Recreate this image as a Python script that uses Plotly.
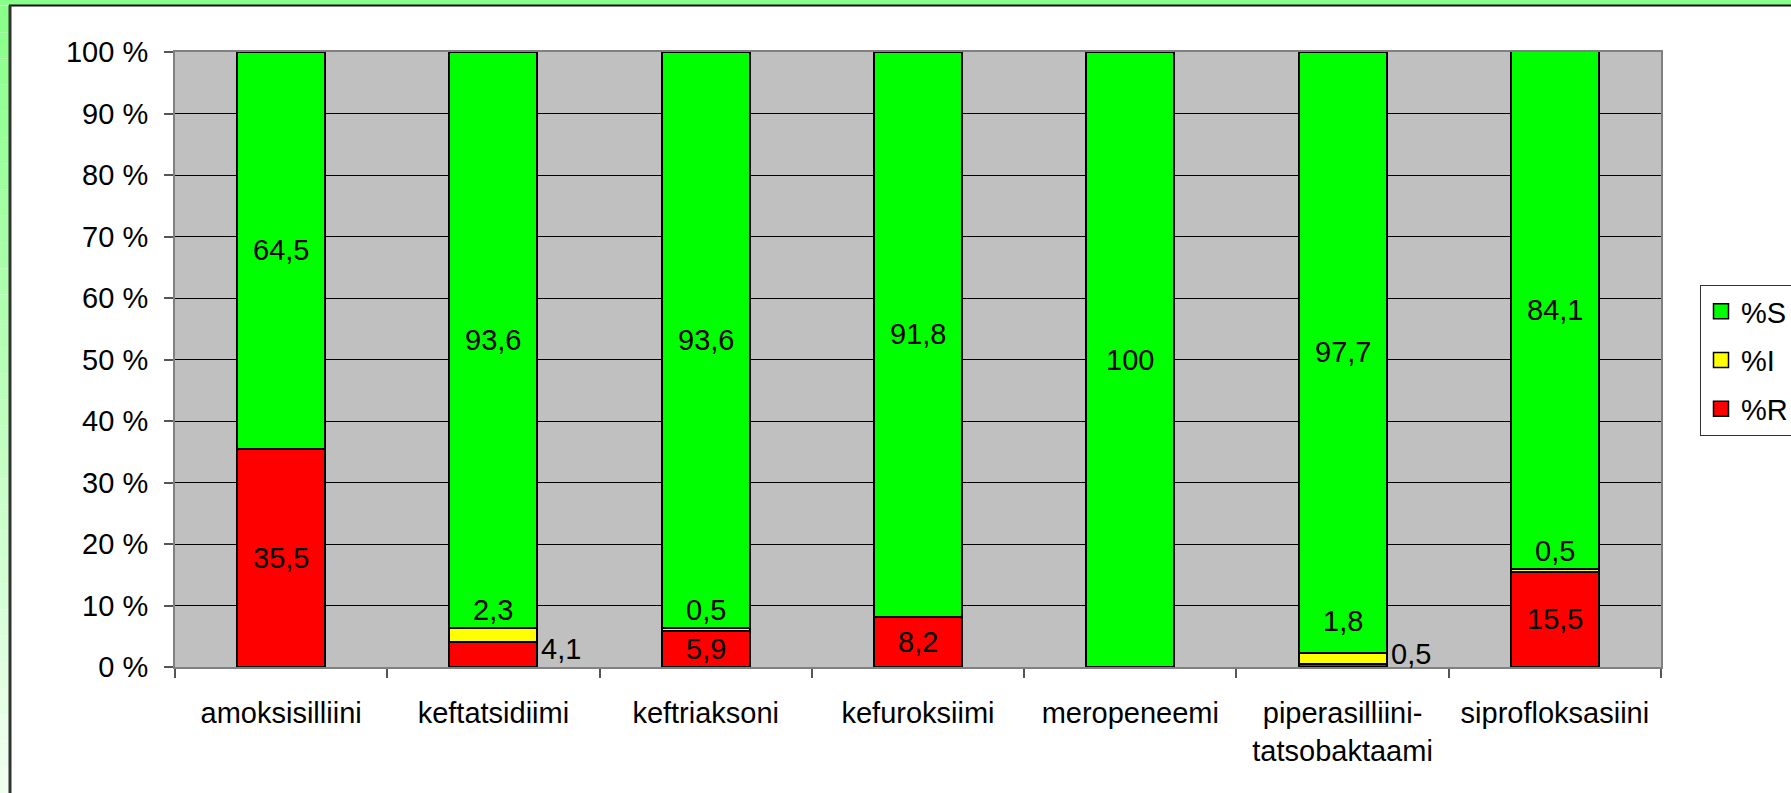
import plotly.graph_objects as go

# ---- data ----
categories = ["amoksisilliini", "keftatsidiimi", "keftriaksoni", "kefuroksiimi",
              "meropeneemi", "piperasilliini-<br>tatsobaktaami", "siprofloksasiini"]
pct_R = [35.5, 4.1, 5.9, 8.2, 0.0, 0.5, 15.5]
pct_I = [0.0, 2.3, 0.5, 0.0, 0.0, 1.8, 0.5]
pct_S = [64.5, 93.6, 93.6, 91.8, 100.0, 97.7, 84.1]
y_ticks = [0, 10, 20, 30, 40, 50, 60, 70, 80, 90, 100]
y_tick_text = [f"{v} %" for v in y_ticks]

# ---- label placement (style) ----
place_R = ["center", "right", "center", "center", None, "right", "center"]
place_I = [None, "above", "above", None, None, "above", "above"]
place_S = ["center"] * 7
shift_R = [0, 0, 0, 0, 0, -5, 0]
shift_I = [0, 0, 0, 0, 0, 14, 0]
shift_S = [0] * 7

W, H = 1791, 793
ML, MR, MT, MB = 175, 130, 52, 126
FONT = "Liberation Sans, Arial, sans-serif"
FS = 29
BAR_W = 0.415

def px_x(px):
    return (px - ML) / (W - ML - MR)

def px_y(py):
    return (H - MB - py) / (H - MT - MB)

fig = go.Figure()
series = [("%R", pct_R, "#FF0000", place_R, shift_R),
          ("%I", pct_I, "#FFFF00", place_I, shift_I),
          ("%S", pct_S, "#00FF00", place_S, shift_S)]

for name, vals, col, _, _ in series:
    fig.add_trace(go.Bar(x=categories, y=vals, name=name, width=BAR_W,
                         marker=dict(color=col, line=dict(color="black", width=2)),
                         showlegend=False, hoverinfo="skip"))

# legend proxies (bigger square symbols)
for gi, (name, vals, col, _, _) in enumerate(reversed(series)):
    fig.add_trace(go.Scatter(x=[None], y=[None], mode="markers", name=name,
                             legendgroup=name, legendrank=gi + 1,
                             marker=dict(symbol="square", size=15, color=col,
                                         line=dict(color="black", width=1.5))))

def fmt(v):
    s = f"{v:.1f}".replace(".", ",")
    return s[:-2] if s.endswith(",0") else s

annotations = []
base = [0.0] * len(categories)
for name, vals, col, places, shifts in series:
    for i, v in enumerate(vals):
        p = places[i]
        if p is not None and v > 0:
            if p == "center":
                annotations.append(dict(x=i, y=base[i] + v / 2, xref="x", yref="y",
                                        text=fmt(v), showarrow=False, yshift=shifts[i],
                                        xanchor="center", yanchor="middle"))
            elif p == "above":
                annotations.append(dict(x=i, y=base[i] + v, xref="x", yref="y",
                                        text=fmt(v), showarrow=False, yshift=shifts[i],
                                        xanchor="center", yanchor="bottom"))
            elif p == "right":
                annotations.append(dict(x=i + BAR_W / 2, y=base[i], xref="x", yref="y",
                                        text=fmt(v), showarrow=False, xshift=2,
                                        yshift=shifts[i],
                                        xanchor="left", yanchor="bottom"))
        base[i] += v
for a in annotations:
    a["font"] = dict(family=FONT, size=FS, color="black")

# frame decorations
shapes = []
n = 30
for k in range(n):
    y0 = 6 + (H - 6) * k / n
    y1 = 6 + (H - 6) * (k + 1) / n
    t = (k + 0.5) / n
    r = int(136 + (242 - 136) * t)
    shapes.append(dict(type="rect", xref="paper", yref="paper", layer="below",
                       x0=px_x(0), x1=px_x(9), y0=px_y(y1), y1=px_y(y0),
                       fillcolor=f"rgb({r},255,{r})", line=dict(width=0)))
shapes.append(dict(type="rect", xref="paper", yref="paper", layer="below",
                   x0=px_x(0), x1=px_x(W), y0=px_y(5), y1=px_y(0),
                   fillcolor="#88FF88", line=dict(width=0)))
shapes.append(dict(type="line", xref="paper", yref="paper", layer="below",
                   x0=px_x(9), x1=px_x(W), y0=px_y(5.5), y1=px_y(5.5),
                   line=dict(color="#111111", width=2)))
shapes.append(dict(type="line", xref="paper", yref="paper", layer="below",
                   x0=px_x(10), x1=px_x(10), y0=px_y(H), y1=px_y(5),
                   line=dict(color="#333333", width=3)))

fig.update_layout(
    width=W, height=H,
    barmode="stack",
    margin=dict(l=ML, r=MR, t=MT, b=MB, autoexpand=False),
    paper_bgcolor="white",
    plot_bgcolor="#C0C0C0",
    font=dict(family=FONT, size=FS, color="black"),
    annotations=annotations,
    shapes=shapes,
    legend=dict(x=px_x(1700), y=px_y(285), xanchor="left", yanchor="top",
                bgcolor="white", bordercolor="#333333", borderwidth=1,
                font=dict(family=FONT, size=FS, color="black"),
                traceorder="grouped", tracegroupgap=8,
                itemclick=False, itemdoubleclick=False),
    xaxis=dict(type="category", showgrid=False, showline=True, linecolor="#808080",
               linewidth=2, mirror=True, ticks="outside", tickson="boundaries",
               ticklen=9, tickwidth=1.5, tickcolor="#555555", automargin=False,
               tickfont=dict(family=FONT, size=FS, color="black"),
               ticklabelstandoff=19, fixedrange=True),
    yaxis=dict(range=[0, 100], tickvals=y_ticks, ticktext=y_tick_text,
               showgrid=True, gridcolor="#000000", gridwidth=1,
               showline=True, linecolor="#808080", linewidth=2, mirror=True,
               ticks="outside", ticklen=9, tickwidth=1.5, tickcolor="#555555",
               automargin=False,
               tickfont=dict(family=FONT, size=FS, color="black"),
               ticklabelstandoff=10, zeroline=False, fixedrange=True),
)

fig.write_html("out.html", config={"displayModeBar": False},
               post_script="document.body.style.margin='0';document.body.style.overflow='hidden';")
